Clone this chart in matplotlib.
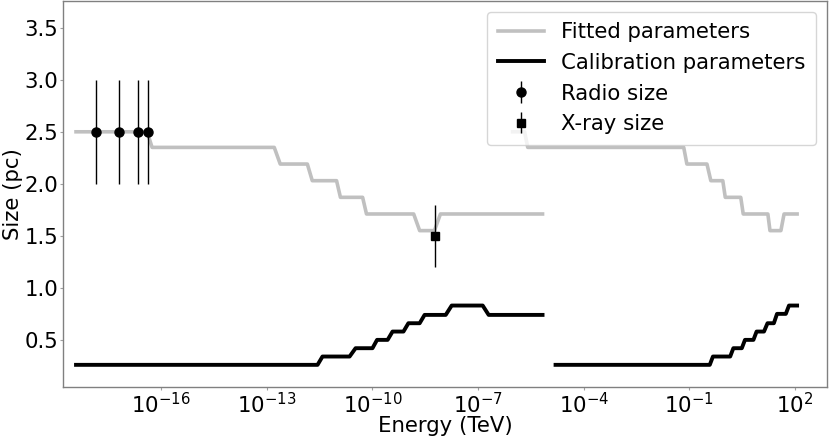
import matplotlib
matplotlib.use('Agg')
import matplotlib.pyplot as plt
import numpy as np

# step curves (log10 of energy in TeV, size in pc)
fit_lo_logE = [-18.42, -16.40, -16.26, -12.79, -12.62, -11.85, -11.71, -11.02, -10.91,
               -10.28, -10.17, -8.83, -8.66, -8.24, -8.07, -5.17]
fit_lo_size = [2.50, 2.50, 2.35, 2.35, 2.19, 2.19, 2.03, 2.03, 1.87,
               1.87, 1.71, 1.71, 1.55, 1.55, 1.71, 1.71]

fit_hi_logE = [-6.02, -5.68, -5.59, -1.16, -1.07, -0.50, -0.39, -0.05, 0.02,
               0.46, 0.53, 1.23, 1.29, 1.60, 1.69, 2.06]
fit_hi_size = [2.50, 2.50, 2.35, 2.35, 2.19, 2.19, 2.03, 2.03, 1.87,
               1.87, 1.71, 1.71, 1.55, 1.55, 1.71, 1.71]

cal_lo_logE = [-18.42, -11.56, -11.42, -10.65, -10.48, -10.00, -9.87, -9.57, -9.43,
               -9.12, -8.98, -8.66, -8.52, -7.92, -7.75, -6.87, -6.70, -5.17]
cal_lo_size = [0.26, 0.26, 0.34, 0.34, 0.42, 0.42, 0.50, 0.50, 0.58,
               0.58, 0.66, 0.66, 0.74, 0.74, 0.83, 0.83, 0.74, 0.74]

cal_hi_logE = [-4.80, -0.42, -0.33, 0.16, 0.25, 0.49, 0.58, 0.82, 0.91,
               1.12, 1.22, 1.40, 1.49, 1.74, 1.83, 2.06]
cal_hi_size = [0.26, 0.26, 0.34, 0.34, 0.42, 0.42, 0.50, 0.50, 0.58,
               0.58, 0.66, 0.66, 0.75, 0.75, 0.83, 0.83]

# measurements
radio_logE = [-17.86, -17.19, -16.67, -16.37]
radio_size = [2.5, 2.5, 2.5, 2.5]
radio_err = [0.5, 0.5, 0.5, 0.5]

xray_logE = [-8.21]
xray_size = [1.5]
xray_err = [0.3]

yticks = [0.5, 1.0, 1.5, 2.0, 2.5, 3.0, 3.5]
xtick_exp = [-16, -13, -10, -7, -4, -1, 2]

plt.rcParams['font.family'] = ['DejaVu Sans']
fs = 15.3

fig = plt.figure(figsize=(8.3, 4.37), dpi=100)
ax = fig.add_axes([0.0759, 0.1144, 0.9205, 0.8833])

gray = '#c0c0c0'
ax.plot(10.0 ** np.array(fit_lo_logE), fit_lo_size, color=gray, lw=2.6, label='Fitted parameters')
ax.plot(10.0 ** np.array(fit_hi_logE), fit_hi_size, color=gray, lw=2.6)
ax.plot(10.0 ** np.array(cal_lo_logE), cal_lo_size, color='black', lw=2.8, label='Calibration parameters')
ax.plot(10.0 ** np.array(cal_hi_logE), cal_hi_size, color='black', lw=2.8)

ax.errorbar(10.0 ** np.array(radio_logE), radio_size, yerr=radio_err, fmt='o',
            color='black', ms=6.5, elinewidth=1.0, label='Radio size')
ax.errorbar(10.0 ** np.array(xray_logE), xray_size, yerr=xray_err, fmt='s',
            color='black', ms=6, elinewidth=1.0, label='X-ray size')

ax.set_xscale('log')
ax.set_xlim(10 ** -18.79, 10 ** 2.91)
ax.set_ylim(0.047, 3.757)
ax.set_xticks([10.0 ** e for e in xtick_exp])
ax.set_xticklabels([r'$10^{%d}$' % e for e in xtick_exp])
ax.xaxis.set_minor_locator(matplotlib.ticker.NullLocator())
ax.set_yticks(yticks)

ax.tick_params(labelsize=fs, color='#a0a0a0', length=2, width=0.8, pad=1.5)
for s in ax.spines.values():
    s.set_color('#808080')
    s.set_linewidth(1.0)

ax.set_xlabel('Energy (TeV)', fontsize=fs, labelpad=-1)
ax.set_ylabel('Size (pc)', fontsize=fs, labelpad=1)

ax.legend(loc='upper right', fontsize=fs, borderaxespad=0.5, handlelength=2.2,
          labelspacing=0.5, borderpad=0.5)

fig.savefig('out.png', dpi=100)
